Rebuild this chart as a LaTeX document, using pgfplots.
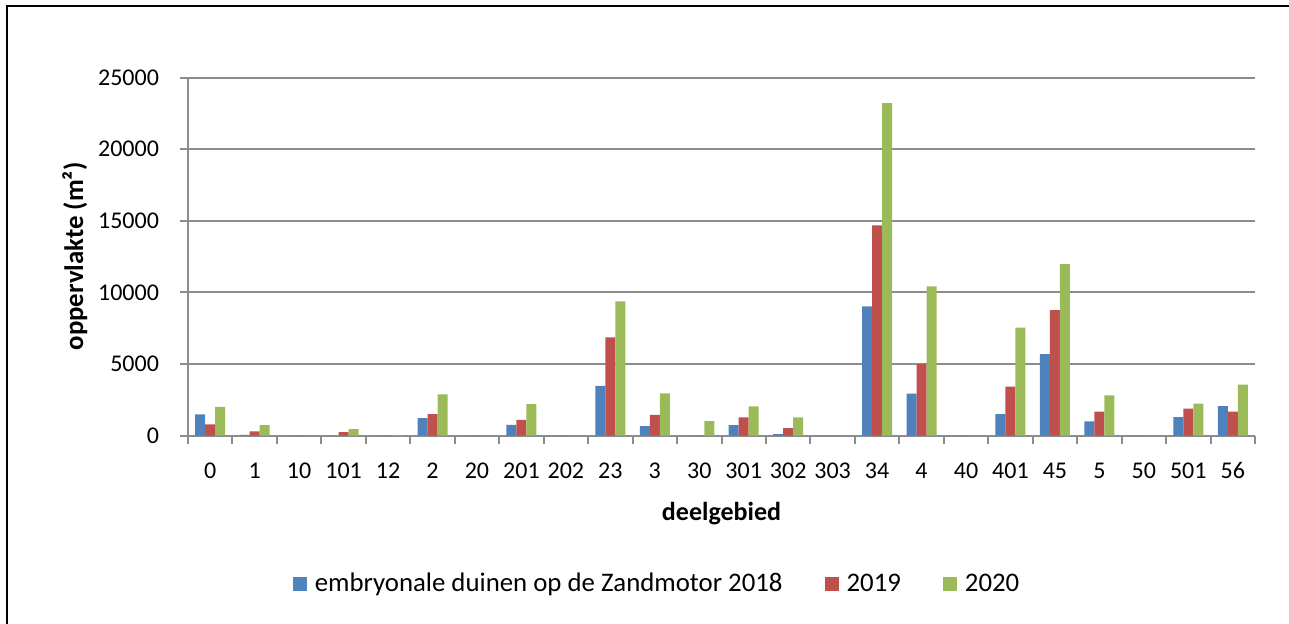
\documentclass[border=0pt]{standalone}
\usepackage{fontspec}
\setmainfont{Carlito}
\usepackage{pgfplots}
\pgfplotsset{compat=1.18}
\definecolor{cblue}{HTML}{4F81BD}
\definecolor{cred}{HTML}{C0504D}
\definecolor{cgreen}{HTML}{9BBB59}
\definecolor{cgrid}{HTML}{8C8C8C}
\begin{document}
\begin{tikzpicture}
\useasboundingbox (0,0) rectangle (644.5bp,312bp);
\draw[black, line width=1.2bp] (3.5bp,0) -- (3.5bp,309bp) -- (644.5bp,309bp);
\begin{axis}[
  at={(94bp,94.25bp)}, anchor=south west,
  scale only axis, width=533.5bp, height=179bp,
  font=\fontsize{12bp}{14bp}\selectfont,
  ybar, bar width=0.225,
  xmin=-0.5, xmax=23.5, ymin=0, ymax=25000,
  axis x line*=bottom, axis y line*=left,
  axis line style={draw=cgrid, line width=1bp},
  ymajorgrids, grid style={draw=cgrid, line width=1bp},
  xtick={0,...,23},
  xticklabels={0,1,10,101,12,2,20,201,202,23,3,30,301,302,303,34,4,40,401,45,5,50,501,56},
  minor xtick={-0.5,0.5,...,23.5},
  major x tick style={draw=none},
  minor x tick style={draw=cgrid, line width=1bp},
  major y tick style={draw=cgrid, line width=1bp},
  tick align=outside, major tick length=4bp, minor tick length=4bp,
  ytick={0,5000,...,25000},
  scaled y ticks=false,
  /pgf/number format/set thousands separator={},
  /pgf/number format/assume math mode=true,
  xticklabel style={anchor=base, yshift=-17.4bp},
  yticklabel style={anchor=east, xshift=-7bp},
  every axis y label/.style={at={(axis description cs:-0.106,0.5)}, rotate=90, anchor=center,
     font=\fontsize{13.4bp}{15bp}\selectfont\bfseries},
  every axis x label/.style={at={(axis description cs:0.5,0)}, anchor=center, yshift=-39.25bp, font=\fontsize{13bp}{15bp}\selectfont\bfseries},
  ylabel={oppervlakte (m²)},
  xlabel={deelgebied},
  legend columns=3,
  legend style={draw=none, at={(axis description cs:0.4405,-0.4148)}, anchor=center,
    /tikz/every even column/.append style={column sep=19bp},
    /tikz/every odd column/.append style={column sep=2bp},
    font=\fontsize{13.4bp}{15bp}\selectfont},
  legend image code/.code={\fill[#1] (0bp,-3.5bp) rectangle (7bp,3.5bp);},
]
\addplot[fill=cblue, draw=none, bar shift=-0.225] coordinates {
(0,1470) (1,50) (2,0) (3,0) (4,0) (5,1210) (6,0) (7,740) (8,0) (9,3460) (10,650) (11,0)
(12,720) (13,90) (14,0) (15,9010) (16,2930) (17,0) (18,1490) (19,5680) (20,980) (21,0) (22,1280) (23,2050)};
\addplot[fill=cred, draw=none, bar shift=0] coordinates {
(0,770) (1,280) (2,0) (3,230) (4,0) (5,1490) (6,0) (7,1090) (8,0) (9,6860) (10,1440) (11,0)
(12,1260) (13,510) (14,0) (15,14680) (16,5000) (17,0) (18,3420) (19,8750) (20,1670) (21,0) (22,1880) (23,1670)};
\addplot[fill=cgreen, draw=none, bar shift=0.225] coordinates {
(0,2000) (1,720) (2,0) (3,440) (4,20) (5,2870) (6,0) (7,2190) (8,0) (9,9360) (10,2950) (11,1000)
(12,2030) (13,1260) (14,0) (15,23210) (16,10420) (17,0) (18,7540) (19,11960) (20,2810) (21,0) (22,2230) (23,3560)};
\legend{embryonale duinen op de Zandmotor 2018, 2019, 2020}
\end{axis}
\end{tikzpicture}
\end{document}
